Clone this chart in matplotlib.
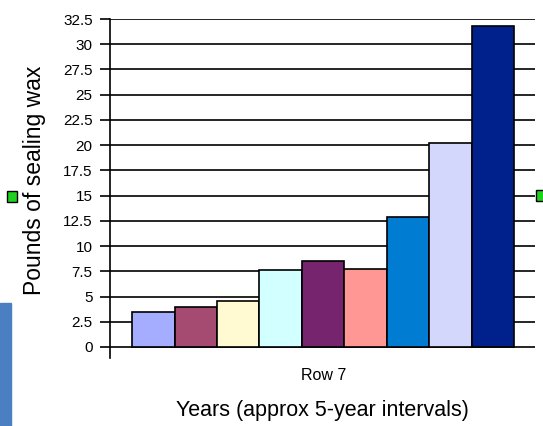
import matplotlib.pyplot as plt
from matplotlib.patches import Rectangle

plt.rcParams['font.family'] = ['Liberation Sans', 'DejaVu Sans']

years = ['1', '2', '3', '4', '5', '6', '7', '8', '9']
wax = [3.5, 4.0, 4.6, 7.6, 8.5, 7.7, 12.9, 20.2, 31.8]
colors = ['#a4adff', '#a54b72', '#fffad2', '#d2ffff', '#77246f', '#ff9794',
          '#007cd3', '#d2d7fb', '#00208c']
yticks = [0, 2.5, 5, 7.5, 10, 12.5, 15, 17.5, 20, 22.5, 25, 27.5, 30, 32.5]
ytick_labels = ['0', '2.5', '5', '7.5', '10', '12.5', '15', '17.5', '20',
                '22.5', '25', '27.5', '30', '32.5']

fig = plt.figure(figsize=(5.43, 4.26), dpi=100)
ax = fig.add_axes([110 / 543, 1 - 358 / 426, 425 / 543, 339 / 426])

for i, (v, c) in enumerate(zip(wax, colors)):
    ax.bar(i, v, width=1.0, color=c, edgecolor='black', linewidth=1.2, zorder=3)

ax.set_xlim(-1.02, 8.99)
ax.set_ylim(-1.09, 32.5)
ax.set_yticks(yticks)
ax.set_yticklabels(ytick_labels, fontsize=11)
ax.yaxis.grid(True, color='black', linewidth=1.2, zorder=0)
ax.tick_params(axis='y', length=7.5, width=1.2, pad=5)
ax.set_xticks([4])
ax.set_xticklabels(['Row 7'], fontsize=11.5)
ax.tick_params(axis='x', length=0, pad=7)
for s in ['top', 'right', 'bottom']:
    ax.spines[s].set_visible(False)
ax.spines['left'].set_linewidth(1.2)

ax.set_ylabel('Pounds of sealing wax', fontsize=16.5)
ax.yaxis.set_label_coords(-0.15, 0.525)
ax.set_xlabel('Years (approx 5-year intervals)', fontsize=15.5)
ax.xaxis.set_label_coords(0.499, -0.125)

# screenshot decorations
fig.patches.append(Rectangle((0, 0), 11 / 543, 123 / 426, transform=fig.transFigure,
                             color='#4a80c2', zorder=0))
fig.patches.append(Rectangle((7 / 543, 1 - 202 / 426), 10 / 543, 11 / 426,
                             transform=fig.transFigure, facecolor='#1ed21e',
                             edgecolor='black', linewidth=1))
fig.patches.append(Rectangle((536 / 543, 1 - 201 / 426), 10 / 543, 11 / 426,
                             transform=fig.transFigure, facecolor='#1ed21e',
                             edgecolor='black', linewidth=1))

fig.savefig('out.png', dpi=100)
